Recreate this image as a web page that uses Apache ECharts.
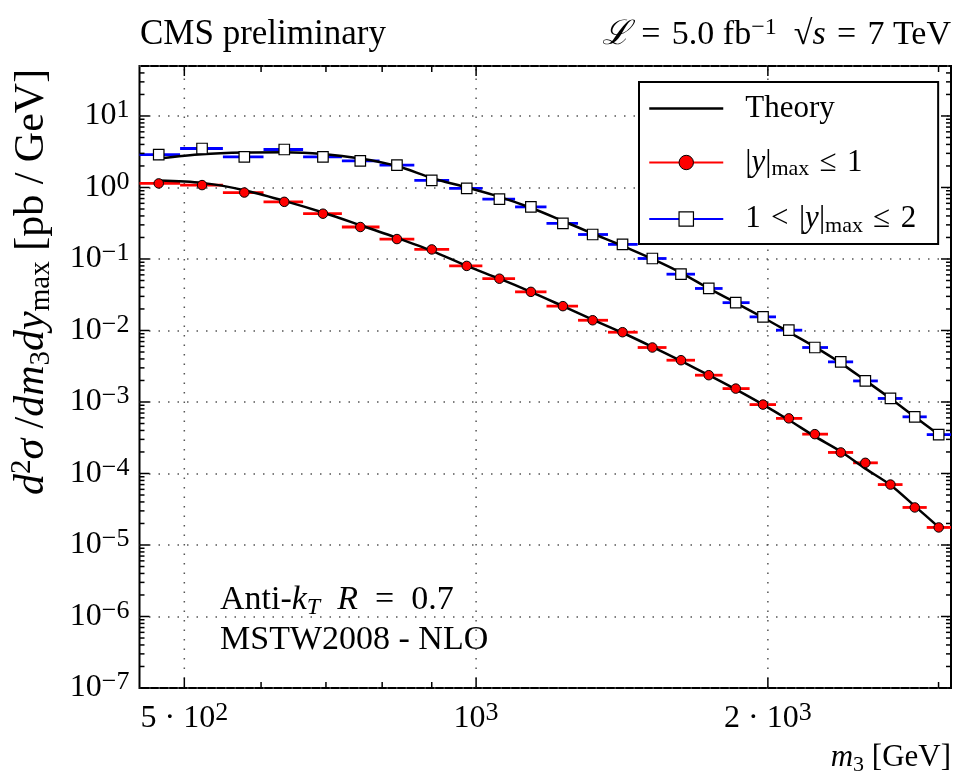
<!DOCTYPE html>
<html><head><meta charset="utf-8">
<script src="https://cdn.jsdelivr.net/npm/echarts@6/dist/echarts.min.js"></script>
<style>html,body{margin:0;padding:0;background:#fff}#c{width:957px;height:781px}</style>
</head><body><div id="c"></div>
<script>
// ---- data ----
const m3 = [470.5, 521.5, 576.6, 634, 695, 759.5, 828.6, 900, 978, 1057, 1139, 1229, 1319, 1416, 1520, 1627, 1738, 1853, 1977, 2102, 2236, 2378, 2521, 2676, 2835, 3001];
const binEdges = [449.5, 495, 548, 603.5, 663, 727, 795, 863.5, 938, 1015, 1097, 1182, 1274, 1368, 1468, 1572, 1682, 1796, 1915, 2039, 2170, 2307, 2449, 2597, 2754, 2917, 3090];
const dataY1 = [1.14, 1.08, 0.85, 0.63, 0.43, 0.28, 0.19, 0.136, 0.08, 0.053, 0.0347, 0.0219, 0.0139, 0.00946, 0.00578, 0.00384, 0.00237, 0.00154, 0.00092, 0.00059, 0.000355, 0.000197, 0.000141, 7.0e-5, 3.35e-5, 1.76e-5];
const dataY2 = [2.89, 3.51, 2.68, 3.40, 2.68, 2.36, 2.05, 1.26, 0.97, 0.686, 0.535, 0.314, 0.22, 0.16, 0.1016, 0.0613, 0.0387, 0.0245, 0.0155, 0.0101, 0.00578, 0.00364, 0.00197, 0.00112, 0.00062, 0.00035];
const theoryY1 = [1.25, 1.16, 0.917, 0.65, 0.447, 0.297, 0.197, 0.13, 0.08, 0.053, 0.0347, 0.0219, 0.0142, 0.0093, 0.0059, 0.00375, 0.00237, 0.0015, 0.00092, 0.00056, 0.00033, 0.000203, 0.000117, 6.9e-5, 3.5e-5, 1.78e-5];
const theoryY2 = [2.55, 2.92, 3.09, 3.12, 2.95, 2.55, 2.0, 1.36, 1.0, 0.74, 0.52, 0.34, 0.227, 0.153, 0.10, 0.064, 0.0387, 0.0244, 0.0152, 0.0095, 0.0059, 0.0035, 0.002, 0.00112, 0.00062, 0.00035];
const xMajorTicks = [500, 1000, 2000];
const xTickLabels = ['{n|5 · 10}{s|2}', '{n|10}{s|3}', '{n|2 · 10}{s|3}'];
const xMinorTicks = [600, 700, 800, 900, 3000];
const xRange = [449.5, 3090];
const yRange = [1e-7, 50];
const yMajorTicks = [1e-7, 1e-6, 1e-5, 1e-4, 1e-3, 1e-2, 1e-1, 1, 10];
const NAME1 = '|y|max ≤ 1';
const NAME2 = '1 < |y|max ≤ 2';

// ---- helpers ----
const FONT = '"Liberation Serif", "DejaVu Serif", serif';
const SP = '\u2004';
function richSet(size, supRatio) {
  const sub = Math.round(size * (supRatio || 0.74));
  const lh = Math.round(size * 1.15);
  return {
    n: {fontFamily: FONT, fontSize: size, color: '#000', lineHeight: lh},
    i: {fontFamily: FONT, fontSize: size, fontStyle: 'italic', color: '#000', lineHeight: lh},
    s: {fontFamily: FONT, fontSize: sub, color: '#000', lineHeight: sub, verticalAlign: 'top'},
    si: {fontFamily: FONT, fontSize: sub, fontStyle: 'italic', color: '#000', lineHeight: sub, verticalAlign: 'top'},
    b: {fontFamily: FONT, fontSize: sub, color: '#000', lineHeight: sub, verticalAlign: 'bottom'},
    bi: {fontFamily: FONT, fontSize: sub, fontStyle: 'italic', color: '#000', lineHeight: sub, verticalAlign: 'bottom'},
    sp: {fontFamily: FONT, fontSize: size, width: 17, lineHeight: lh}
  };
}
const richAxis = richSet(32, 0.8);
const richLegend = richSet(31, 0.7);
const legendLabels = {
  'Theory': '{sp| }{n|Theory}',
  [NAME1]: '{sp| }{n||}{i|y}{n||}{b|max}{n|' + SP + '≤' + SP + '1}',
  [NAME2]: '{sp| }{n|1' + SP + '<' + SP + '|}{i|y}{n||}{b|max}{n|' + SP + '≤' + SP + '2}'
};

const minorY = [];
for (let e = -7; e <= 1; e++) for (let k = 2; k <= 9; k++) { const v = k * Math.pow(10, e); if (v < yRange[1]) minorY.push(v); }

function xDecor(params, api) {
  const cs = params.coordSys;
  const v = api.value(0), kind = api.value(2);
  const x = api.coord([v, 1])[0];
  const bottom = cs.y + cs.height, top = cs.y;
  const len = kind ? 10 : 6;
  const ch = [
    {type: 'line', shape: {x1: x, y1: bottom, x2: x, y2: bottom - len}, style: {stroke: '#000', lineWidth: 1.5}},
    {type: 'line', shape: {x1: x, y1: top, x2: x, y2: top + len}, style: {stroke: '#000', lineWidth: 1.5}}
  ];
  if (kind) {
    ch.unshift({type: 'line', shape: {x1: x, y1: bottom, x2: x, y2: top}, style: {stroke: '#555', lineWidth: 1.5, lineDash: [1.5, 8]}});
    ch.push({type: 'text', x: x, y: bottom + 31, style: {text: xTickLabels[params.dataIndex], rich: richAxis, align: 'center', verticalAlign: 'middle'}});
  }
  return {type: 'group', children: ch};
}
function yDecor(params, api) {
  const cs = params.coordSys;
  const v = api.value(1), kind = api.value(2);
  const y = api.coord([1000, v])[1];
  const left = cs.x, right = cs.x + cs.width;
  const len = kind ? 10 : 5;
  return {type: 'group', children: [
    {type: 'line', shape: {x1: left, y1: y, x2: left + len, y2: y}, style: {stroke: '#000', lineWidth: 1.5}},
    {type: 'line', shape: {x1: right, y1: y, x2: right - len, y2: y}, style: {stroke: '#000', lineWidth: 1.5}}
  ]};
}
function errBar(color) {
  return function (params, api) {
    const y = api.coord([api.value(0), api.value(1)])[1];
    const x1 = api.coord([api.value(2), api.value(1)])[0];
    const x2 = api.coord([api.value(3), api.value(1)])[0];
    return {type: 'line', shape: {x1: x1, y1: y, x2: x2, y2: y}, style: {stroke: color, lineWidth: 2.8}};
  };
}

const chart = echarts.init(document.getElementById('c'), null, {renderer: 'canvas'});
chart.setOption({
  animation: false,
  backgroundColor: '#fff',
  grid: {left: 139.5, right: 6, top: 66, bottom: 93, show: true, borderColor: '#000', borderWidth: 2, containLabel: false},
  xAxis: {type: 'log', min: xRange[0], max: xRange[1], axisLine: {show: false}, axisTick: {show: false}, axisLabel: {show: false}, splitLine: {show: false}},
  yAxis: {type: 'log', min: yRange[0], max: yRange[1], splitNumber: 9,
    axisLine: {show: false}, axisTick: {show: false},
    splitLine: {show: true, lineStyle: {color: '#555', width: 1.5, type: [1.5, 8]}},
    axisLabel: {margin: 10, rich: richAxis, formatter: function (v) {
      const e = Math.log10(v), r = Math.round(e);
      if (Math.abs(e - r) > 1e-6) return '';
      return '{n|10}{s|' + (r < 0 ? '−' + (-r) : r) + '}';
    }}},
  legend: {
    orient: 'vertical', left: 639, top: 82, padding: [11, 22, 7, 9],
    borderColor: '#000', borderWidth: 2, backgroundColor: '#fff', borderRadius: 0,
    itemWidth: 74, itemHeight: 18, itemGap: 23,
    textStyle: {fontFamily: FONT, fontSize: 31, color: '#000', rich: richLegend},
    formatter: function (name) { return legendLabels[name]; },
    data: [
      {name: 'Theory', lineStyle: {color: '#000', width: 2.5, opacity: 1}, itemStyle: {opacity: 0, borderWidth: 0}},
      {name: NAME1, lineStyle: {color: '#ff0000', width: 2, opacity: 1}, itemStyle: {color: '#ff0000', borderColor: '#000', borderWidth: 1}},
      {name: NAME2, lineStyle: {color: '#0000ff', width: 2, opacity: 1}, itemStyle: {color: '#fff', borderColor: '#000', borderWidth: 1.2}}
    ]
  },
  graphic: [
    {type: 'text', x: 140, y: 35, style: {text: '{n|CMS preliminary}', rich: richSet(35), align: 'left', verticalAlign: 'middle'}},
    {type: 'text', x: 951, y: 35, style: {text: '{i|ℒ}{n|' + SP + '=' + SP + '5.0 fb}{s|−1}{n|  √}{i|s}{n|' + SP + '=' + SP + '7 TeV}', rich: richSet(34, 0.7), align: 'right', verticalAlign: 'middle'}},
    {type: 'text', x: 220, y: 600, style: {text: '{n|Anti-}{i|k}{bi|T}{i|\u2002R}{n|\u2002=\u20020.7}', rich: richSet(34, 0.7), align: 'left', verticalAlign: 'middle'}},
    {type: 'text', x: 220, y: 640, style: {text: '{n|MSTW2008 - NLO}', rich: richSet(34), align: 'left', verticalAlign: 'middle'}},
    {type: 'text', x: 951, y: 758, style: {text: '{i|m}{b|3}{n| [GeV]}', rich: richSet(31, 0.7), align: 'right', verticalAlign: 'middle'}},
    {type: 'text', x: 32, y: 282, rotation: Math.PI / 2, style: {text: '{i|d}{s|2}{i|σ}{n| /}{i|dm}{b|3}{i|dy}{b|max}{n| [pb / GeV]}', rich: richSet(42, 0.7), align: 'center', verticalAlign: 'middle'}}
  ],
  series: [
    {type: 'custom', name: 'xMajor', silent: true, z: 1, renderItem: xDecor, encode: {x: 0, y: 1},
      data: xMajorTicks.map(v => [v, 1, 1])},
    {type: 'custom', name: 'xMinor', silent: true, z: 5, renderItem: xDecor, encode: {x: 0, y: 1},
      data: xMinorTicks.map(v => [v, 1, 0])},
    {type: 'custom', name: 'yMajor', silent: true, z: 5, renderItem: yDecor, encode: {x: 0, y: 1},
      data: yMajorTicks.map(v => [1000, v, 1])},
    {type: 'custom', name: 'yMinor', silent: true, z: 5, renderItem: yDecor, encode: {x: 0, y: 1},
      data: minorY.map(v => [1000, v, 0])},
    {type: 'custom', name: 'err1', silent: true, z: 2, renderItem: errBar('#ff0000'), encode: {x: 0, y: 1},
      data: m3.map((m, i) => [m, dataY1[i], binEdges[i], binEdges[i + 1]])},
    {type: 'custom', name: 'err2', silent: true, z: 2, renderItem: errBar('#0000ff'), encode: {x: 0, y: 1},
      data: m3.map((m, i) => [m, dataY2[i], binEdges[i], binEdges[i + 1]])},
    {type: 'line', name: 'Theory', z: 3, smooth: 0.3, symbol: 'none', lineStyle: {color: '#000', width: 2.5},
      data: m3.map((m, i) => [m, theoryY1[i]])},
    {type: 'line', name: 'Theory', z: 3, smooth: 0.3, symbol: 'none', lineStyle: {color: '#000', width: 2.5},
      data: m3.map((m, i) => [m, theoryY2[i]])},
    {type: 'line', name: NAME1, z: 4, symbol: 'circle', symbolSize: 9.5, showSymbol: true,
      itemStyle: {color: '#ff0000', borderColor: '#000', borderWidth: 1}, lineStyle: {width: 0, opacity: 0},
      data: m3.map((m, i) => [m, dataY1[i]])},
    {type: 'line', name: NAME2, z: 4, symbol: 'rect', symbolSize: 10.5, showSymbol: true,
      itemStyle: {color: '#fff', borderColor: '#000', borderWidth: 1.2}, lineStyle: {width: 0, opacity: 0},
      data: m3.map((m, i) => [m, dataY2[i]])}
  ]
});
</script></body></html>
